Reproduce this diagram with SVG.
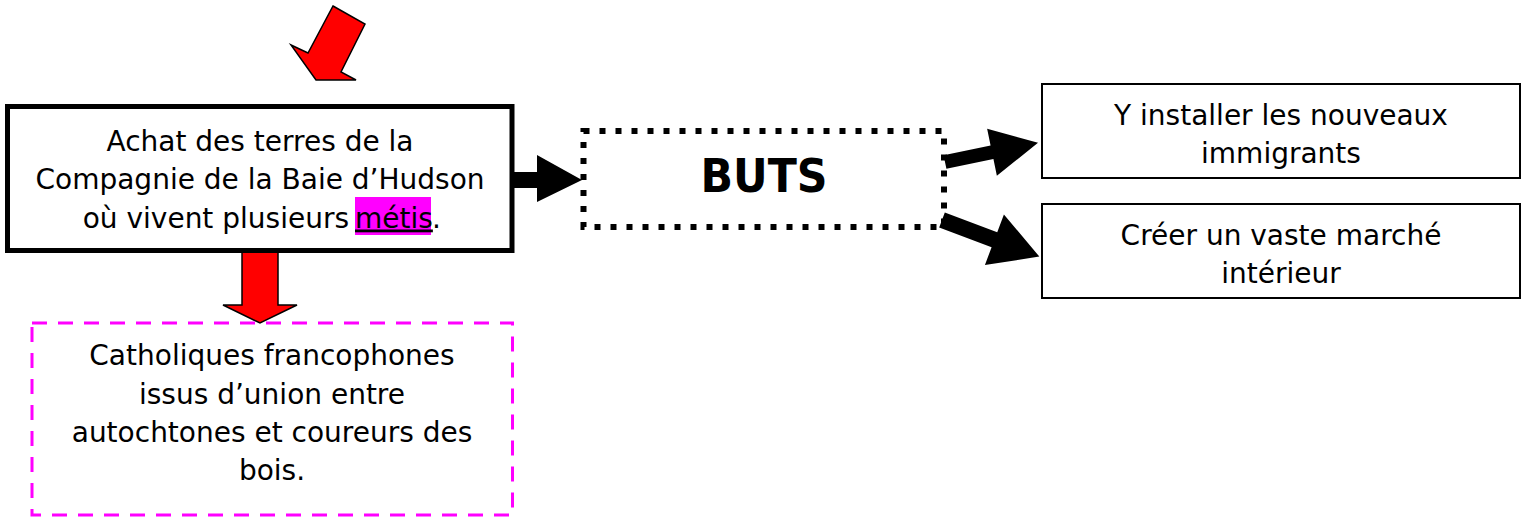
<svg xmlns="http://www.w3.org/2000/svg" width="1528" height="521" viewBox="0 0 1528 521">
<style>
  .t { font-family: "DejaVu Sans", Verdana, sans-serif; font-size: 28px; fill: #000; text-anchor: middle; }
  .b { font-family: "DejaVu Sans", Verdana, sans-serif; font-size: 47px; font-weight: bold; fill: #000; text-anchor: middle; }
  .red { fill: #ff0000; stroke: #000; stroke-width: 1.5; stroke-linejoin: miter; }
  .blk { fill: #000; stroke: none; }
</style>
<rect width="1528" height="521" fill="#fff"/>

<g id="connectors">
  <polygon class="red" points="333,6 365,24 341,72 356,80 316,80 291,45 308,53"/>
  <polygon class="red" points="242,252 278,252 278,305 297,305 260,323 223,305 242,305"/>
  <polygon class="blk" points="514,172 537,172 537,155 582,180 537,202 537,188 514,188"/>
  <polygon class="blk" transform="translate(945,162) rotate(-11.7)" points="0,-7 48,-7 48,-24 95,0 48,24 48,7 0,7"/>
  <polygon class="blk" transform="translate(942,220) rotate(20.6)" points="0,-8 56,-8 56,-27 104,0 56,27 56,8 0,8"/>
</g>

<g id="achat">
  <rect x="7.5" y="106.5" width="504.5" height="144" fill="#fff" stroke="#000" stroke-width="5"/>
  <rect x="355" y="197" width="76" height="38" fill="#ff00ff"/>
  <text class="t" x="260" y="151">Achat des terres de la</text>
  <text class="t" x="260" y="189">Compagnie de la Baie d’Hudson</text>
  <text class="t" y="227.5"><tspan x="349" text-anchor="end">où vivent plusieurs</tspan><tspan x="355" text-anchor="start" text-decoration="underline">métis</tspan><tspan x="432" text-anchor="start">.</tspan></text>
</g>

<g id="metis">
  <rect x="32" y="323" width="480.5" height="192" fill="none" stroke="#ff00ff" stroke-width="3" stroke-dasharray="15 11"/>
  <text class="t" x="272" y="365">Catholiques francophones</text>
  <text class="t" x="272" y="403.5">issus d’union entre</text>
  <text class="t" x="272" y="442">autochtones et coureurs des</text>
  <text class="t" x="272" y="480">bois.</text>
</g>

<g id="buts">
  <rect x="583.5" y="131" width="360.5" height="96" fill="none" stroke="#000" stroke-width="6" stroke-dasharray="6 10"/>
  <text class="b" x="764" y="192" textLength="127" lengthAdjust="spacingAndGlyphs">BUTS</text>
</g>

<g id="installer">
  <rect x="1042" y="84" width="478" height="94" fill="#fff" stroke="#000" stroke-width="2"/>
  <text class="t" x="1281" y="125">Y installer les nouveaux</text>
  <text class="t" x="1281" y="163">immigrants</text>
</g>

<g id="marche">
  <rect x="1042" y="204" width="478" height="94" fill="#fff" stroke="#000" stroke-width="2"/>
  <text class="t" x="1281" y="245">Créer un vaste marché</text>
  <text class="t" x="1281" y="283">intérieur</text>
</g>
</svg>
